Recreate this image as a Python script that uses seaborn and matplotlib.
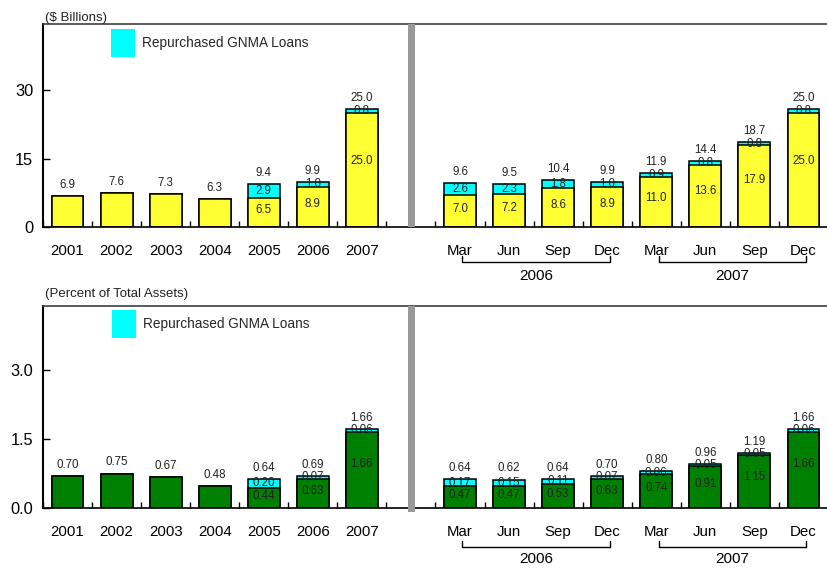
import matplotlib
matplotlib.use("Agg")
import matplotlib.pyplot as plt
from matplotlib.patches import Patch
import seaborn as sns
import pandas as pd
import numpy as np

# ---------------- data ----------------
categories = ["2001", "2002", "2003", "2004", "2005", "2006", "2007", "gap",
              "Mar06", "Jun06", "Sep06", "Dec06", "Mar07", "Jun07", "Sep07", "Dec07"]
tick_labels = ["2001", "2002", "2003", "2004", "2005", "2006", "2007", "",
               "Mar", "Jun", "Sep", "Dec", "Mar", "Jun", "Sep", "Dec"]
bar_categories = [c for c in categories if c != "gap"]
quarter_groups = [("2006", "Mar06", "Dec06"), ("2007", "Mar07", "Dec07")]

billions_base = [6.9, 7.6, 7.3, 6.3, 6.5, 8.9, 25.0,
                 7.0, 7.2, 8.6, 8.9, 11.0, 13.6, 17.9, 25.0]
billions_gnma = [0, 0, 0, 0, 2.9, 1.0, 0.8,
                 2.6, 2.3, 1.8, 1.0, 0.9, 0.8, 0.8, 0.8]
billions_total_labels = ["6.9", "7.6", "7.3", "6.3", "9.4", "9.9", "25.0",
                         "9.6", "9.5", "10.4", "9.9", "11.9", "14.4", "18.7", "25.0"]

pct_base = [0.70, 0.75, 0.67, 0.48, 0.44, 0.63, 1.66,
            0.47, 0.47, 0.53, 0.63, 0.74, 0.91, 1.15, 1.66]
pct_gnma = [0, 0, 0, 0, 0.20, 0.07, 0.06,
            0.17, 0.15, 0.11, 0.07, 0.06, 0.05, 0.05, 0.06]
pct_total_labels = ["0.70", "0.75", "0.67", "0.48", "0.64", "0.69", "1.66",
                    "0.64", "0.62", "0.64", "0.70", "0.80", "0.96", "1.19", "1.66"]

billions_yticks = [0, 15, 30]
billions_yticklabels = ["0", "15", "30"]
pct_yticks = [0.0, 1.5, 3.0]
pct_yticklabels = ["0.0", "1.5", "3.0"]

legend_label = "Repurchased GNMA Loans"

# ---------------- style ----------------
CYAN = "#00FFFF"
YELLOW = "#FFFF33"
GREEN = "#008000"
SEP_GRAY = "#999999"
TXT = "#222222"

sns.set_theme(style="white")
plt.rcParams["font.family"] = ["Liberation Sans", "DejaVu Sans"]

W, H = 828, 569
fig = plt.figure(figsize=(W / 100, H / 100), dpi=100)

slot_px = 49.45
ax_left_px = 43
ax_w_px = W - ax_left_px


def add_axes(top_px, bottom_px):
    return fig.add_axes([ax_left_px / W, 1 - bottom_px / H,
                         ax_w_px / W, (bottom_px - top_px) / H])


def panel(ax, base, gnma, total_labels, fmt, base_color, ymax, yticks, yticklabels,
          ax_h_px, bracket_px, year_px, leg_anchor, sep_below):
    df = pd.DataFrame({"cat": bar_categories, "base": base, "gnma": gnma})
    df["stack"] = df["base"] + df["gnma"]
    sns.barplot(data=df, x="cat", y="stack", order=categories, color=CYAN,
                saturation=1, width=0.65, edgecolor="black", linewidth=1.1,
                errorbar=None, ax=ax)
    sns.barplot(data=df, x="cat", y="base", order=categories, color=base_color,
                saturation=1, width=0.65, edgecolor="black", linewidth=1.1,
                errorbar=None, ax=ax)

    for _, row in df.iterrows():
        x = categories.index(row["cat"])
        lab = total_labels[bar_categories.index(row["cat"])]
        ax.annotate(lab, (x, row["stack"]), xytext=(0, 8), textcoords="offset points",
                    ha="center", va="center", fontsize=8.3, color=TXT)
        if row["gnma"] > 0:
            ax.text(x, row["base"] + row["gnma"] / 2, fmt.format(row["gnma"]),
                    ha="center", va="center", fontsize=8.3, color=TXT)
            ax.text(x, row["base"] * 0.58, fmt.format(row["base"]),
                    ha="center", va="center", fontsize=8.3, color=TXT)

    ax.set_xlim(-0.5, -0.5 + ax_w_px / slot_px)
    ax.set_ylim(0, ymax)
    ax.set_xlabel("")
    ax.set_ylabel("")

    ax.set_xticks(range(len(categories)))
    ax.set_xticklabels(tick_labels, fontsize=10.8, color="black")
    ax.set_xticks(np.arange(-0.5, len(categories)), minor=True)
    ax.tick_params(axis="x", which="major", length=0, pad=12)
    ax.tick_params(axis="x", which="minor", direction="in", length=4, width=1,
                   color="black", bottom=True)
    ax.set_yticks(yticks)
    ax.set_yticklabels(yticklabels, fontsize=11.8, color="black")
    ax.tick_params(axis="y", direction="in", length=5, width=1, color="black",
                   left=True, pad=7)

    ax.spines["right"].set_visible(False)
    ax.spines["top"].set_color("#404040")
    ax.spines["top"].set_linewidth(1.2)
    ax.spines["left"].set_color("black")
    ax.spines["left"].set_linewidth(1.5)
    ax.spines["bottom"].set_color("black")
    ax.spines["bottom"].set_linewidth(1.2)

    # separator bar
    gap_x = categories.index("gap")
    ax.axvspan(gap_x - 0.065, gap_x + 0.09, ymin=-sep_below / ax_h_px, ymax=1,
               color=SEP_GRAY, lw=0, clip_on=False, zorder=3)

    # year brackets under quarters
    tr = ax.get_xaxis_transform()
    yb = -bracket_px / ax_h_px
    yt = -(bracket_px - 6) / ax_h_px
    for year, c0, c1 in quarter_groups:
        x0 = categories.index(c0) + 0.05
        x1 = categories.index(c1) + 0.05
        ax.plot([x0, x0, x1, x1], [yt, yb, yb, yt], transform=tr, color="black",
                lw=1, clip_on=False)
        ax.text((x0 + x1) / 2, -year_px / ax_h_px, year, transform=tr,
                ha="center", va="center", fontsize=11, color="black")

    ax.legend(handles=[Patch(facecolor=CYAN, edgecolor="none")], labels=[legend_label],
              loc="upper left", bbox_to_anchor=leg_anchor, frameon=False,
              fontsize=9.8, borderpad=0, borderaxespad=0, handlelength=1.75,
              handleheight=2.8, handletextpad=0.55)


ax1 = add_axes(24, 227.5)
panel(ax1, billions_base, billions_gnma, billions_total_labels, "{:.1f}", YELLOW,
      44.4, billions_yticks, billions_yticklabels, 227.5 - 24,
      34.5, 48.5, ((111 - 43) / ax_w_px, 0.975), 0)

ax2 = add_axes(305.5, 508)
panel(ax2, pct_base, pct_gnma, pct_total_labels, "{:.2f}", GREEN,
      4.41, pct_yticks, pct_yticklabels, 508 - 305.5,
      39, 51, ((112 - 43) / ax_w_px, 0.978), 4)

fig.text(45 / W, 1 - 20.5 / H, "($ Billions)", fontsize=9.5, color=TXT,
         ha="left", va="baseline")
fig.text(45 / W, 1 - 297.5 / H, "(Percent of Total Assets)", fontsize=9.5, color=TXT,
         ha="left", va="baseline")

fig.savefig("out.png", dpi=100)
